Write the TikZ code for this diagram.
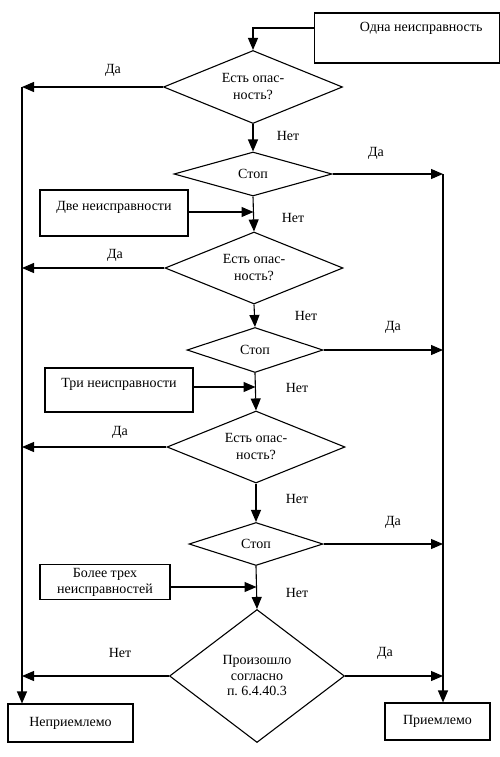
\documentclass[tikz,border=0pt]{standalone}
\usepackage{fontspec}
\setmainfont{Liberation Serif}
\usetikzlibrary{shapes.geometric,arrows.meta}
\frenchspacing
\begin{document}
\begin{tikzpicture}[x=1pt,y=-1pt,line width=1.1pt,
  txt/.style={font=\fontsize{14}{17}\selectfont},
  dia/.style={draw,diamond,inner sep=0pt,align=center,txt},
  box/.style={draw,rectangle,inner sep=0pt,align=center,txt},
  arr/.style={-{Triangle[length=12pt,width=10pt]}},
  lbl/.style={txt}]
\useasboundingbox (0,0) rectangle (500,757);
% decisions
\node[dia,minimum width=179pt,minimum height=73pt,aspect=2.45] (d1) at (253,87) {Есть опас-\\ность?};
\node[dia,minimum width=158pt,minimum height=44pt,aspect=3.6] (d2) at (253,174) {Стоп};
\node[dia,minimum width=178pt,minimum height=72pt,aspect=2.45] (d3) at (254,268) {Есть опас-\\ность?};
\node[dia,minimum width=136pt,minimum height=45pt,aspect=3.0] (d4) at (255,350) {Стоп};
\node[dia,minimum width=178pt,minimum height=72pt,aspect=2.45] (d5) at (256,447) {Есть опас-\\ность?};
\node[dia,minimum width=134pt,minimum height=43pt,aspect=3.1] (d6) at (256,544) {Стоп};
\node[dia,minimum width=175pt,minimum height=133pt,aspect=1.3,font=\fontsize{14}{15.5}\selectfont] (d7) at (257,676) {Произошло\\согласно\\п.\ 6.4.40.3};
% boxes
\node[box,minimum width=185pt,minimum height=50pt] (b1) at (407,38) {};
\node[txt,anchor=east,inner sep=0pt] (b1t) at (483,28) {Одна неисправность};
\node[box,minimum width=148pt,minimum height=46pt] (b2) at (114,213) {};
\node[txt,inner sep=0pt] (b2t) at (114,207) {Две неисправности};
\node[box,minimum width=148pt,minimum height=44pt] (b3) at (119,390) {};
\node[txt,inner sep=0pt] (b3t) at (119,384) {Три неисправности};
\node[box,minimum width=130pt,minimum height=35pt,font=\fontsize{14}{16}\selectfont] (b4) at (105,582) {Более трех\\неисправностей};
\node[box,minimum width=125pt,minimum height=38pt] (b5) at (70.5,723) {Неприемлемо};
\node[box,minimum width=105pt,minimum height=37pt] (b6) at (437.5,721.5) {Приемлемо};
% side line points
\coordinate (L1) at (22,87);
\coordinate (R1) at (443,174);
% main flow
\draw[arr] (b1.west |- b1t) -| (d1.north);
\draw[arr] (d1.south) -- (d2.north);
\draw[arr] (d2.south) -- (d3.north);
\draw[arr] (d3.south) -- (d4.north);
\draw[arr] (d4.south) -- (d5.north);
\draw[arr] (d5.south) -- (d6.north);
\draw[arr] (d6.south) -- (d7.north);
% input arrows
\draw[arr] (b2.east |- 0,212) -- (253.5,212);
\draw[arr] (b3.east |- 0,387) -- (255.5,387);
\draw[arr] (b4.east |- 0,587) -- (256.5,587);
% left (Да -> unacceptable)
\draw[arr] (d1.west) -- (L1);
\draw[arr] (d3.west) -- (L1 |- d3.west);
\draw[arr] (d5.west) -- (L1 |- d5.west);
\draw[arr] (d7.west) -- (L1 |- d7.west);
\draw[arr] (L1) -- (L1 |- b5.north);
% right (Да -> acceptable)
\draw[arr] (d2.east) -- (R1);
\draw[arr] (d4.east) -- (R1 |- d4.east);
\draw[arr] (d6.east) -- (R1 |- d6.east);
\draw[arr] (d7.east) -- (R1 |- d7.east);
\draw[arr] (R1) -- (R1 |- b6.north);
% labels
\node[lbl] (l1) at (113,70) {Да};
\node[lbl] (l2) at (288,136) {Нет};
\node[lbl] (l3) at (376,153) {Да};
\node[lbl] (l4) at (293,218) {Нет};
\node[lbl] (l5) at (115,255) {Да};
\node[lbl] (l6) at (306,316) {Нет};
\node[lbl] (l7) at (393,327) {Да};
\node[lbl] (l8) at (297,388) {Нет};
\node[lbl] (l9) at (120,432) {Да};
\node[lbl] (l10) at (297,499) {Нет};
\node[lbl] (l11) at (393,522) {Да};
\node[lbl] (l12) at (297,593) {Нет};
\node[lbl] (l13) at (120,653) {Нет};
\node[lbl] (l14) at (385,653) {Да};
\end{tikzpicture}
\end{document}
